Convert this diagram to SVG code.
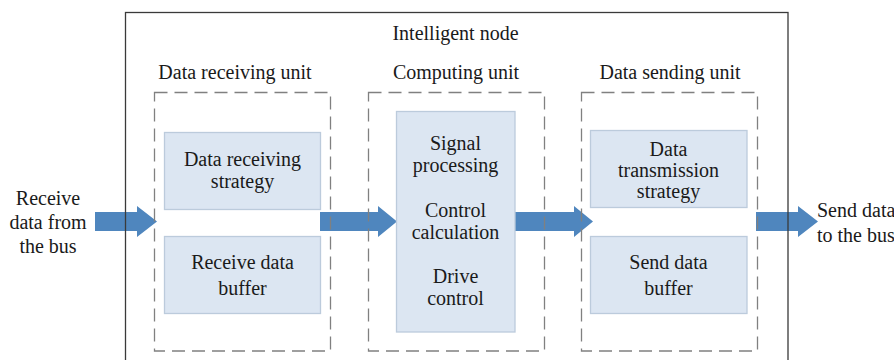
<svg xmlns="http://www.w3.org/2000/svg" width="894" height="360" viewBox="0 0 894 360">
<style>
text{font-family:"Liberation Serif","Times New Roman",serif;font-size:20px;fill:#1a1a1a;text-anchor:middle}
.outer{fill:none;stroke:#3a3a3a;stroke-width:1.3}
.unit{fill:none;stroke:#808080;stroke-width:1.3;stroke-dasharray:13,7}
.inner{fill:#dce6f2;stroke:#bccbdc;stroke-width:1.3}
.arrow{fill:#4f86be}
</style>
<rect width="894" height="360" fill="#ffffff"/>
<g id="connectors">
<polygon class="arrow" points="95,212 137,212 137,206 157,221.5 137,237 137,231 95,231"/>
<polygon class="arrow" points="320,212 378,212 378,206 397,221.5 378,237 378,231 320,231"/>
<polygon class="arrow" points="514,212 574,212 574,206 593,221.5 574,237 574,231 514,231"/>
<polygon class="arrow" points="756,212 798,212 798,206 818,221.5 798,237 798,231 756,231"/>
</g>
<g id="intelligent-node">
<rect class="outer" x="125.5" y="12.5" width="662.5" height="380"/>
<text x="455.5" y="40">Intelligent node</text>
</g>
<g id="data-receiving-unit">
<text x="235" y="79">Data receiving unit</text>
<rect class="unit" x="154.5" y="92.5" width="176" height="258.5"/>
</g>
<g id="computing-unit">
<text x="456" y="79">Computing unit</text>
<rect class="unit" x="368.5" y="92.5" width="176" height="258.5"/>
</g>
<g id="data-sending-unit">
<text x="670" y="79">Data sending unit</text>
<rect class="unit" x="581.5" y="92.5" width="176" height="258.5"/>
</g>
<g id="data-receiving-strategy">
<rect class="inner" x="164.5" y="132.5" width="156" height="77"/>
<text x="242.5" y="166">Data receiving</text>
<text x="242.5" y="188">strategy</text>
</g>
<g id="receive-data-buffer">
<rect class="inner" x="164.5" y="236.5" width="156" height="77"/>
<text x="242.5" y="269">Receive data</text>
<text x="242.5" y="295">buffer</text>
</g>
<g id="computing-box">
<rect class="inner" x="396.5" y="111.5" width="118.5" height="220.5"/>
<text x="455.5" y="150">Signal</text>
<text x="455.5" y="172">processing</text>
<text x="455.5" y="217">Control</text>
<text x="455.5" y="239">calculation</text>
<text x="455.5" y="283">Drive</text>
<text x="455.5" y="305">control</text>
</g>
<g id="data-transmission-strategy">
<rect class="inner" x="590.5" y="130.5" width="156.5" height="77"/>
<text x="668.5" y="156">Data</text>
<text x="668.5" y="177">transmission</text>
<text x="668.5" y="198">strategy</text>
</g>
<g id="send-data-buffer">
<rect class="inner" x="590.5" y="236.5" width="156.5" height="77"/>
<text x="668.5" y="269">Send data</text>
<text x="668.5" y="295">buffer</text>
</g>
<g id="input-label">
<text x="48" y="205">Receive</text>
<text x="48" y="229">data from</text>
<text x="48" y="253">the bus</text>
</g>
<g id="output-label">
<text x="817" y="217" style="text-anchor:start">Send data</text>
<text x="817" y="242" style="text-anchor:start">to the bus</text>
</g>
</svg>
